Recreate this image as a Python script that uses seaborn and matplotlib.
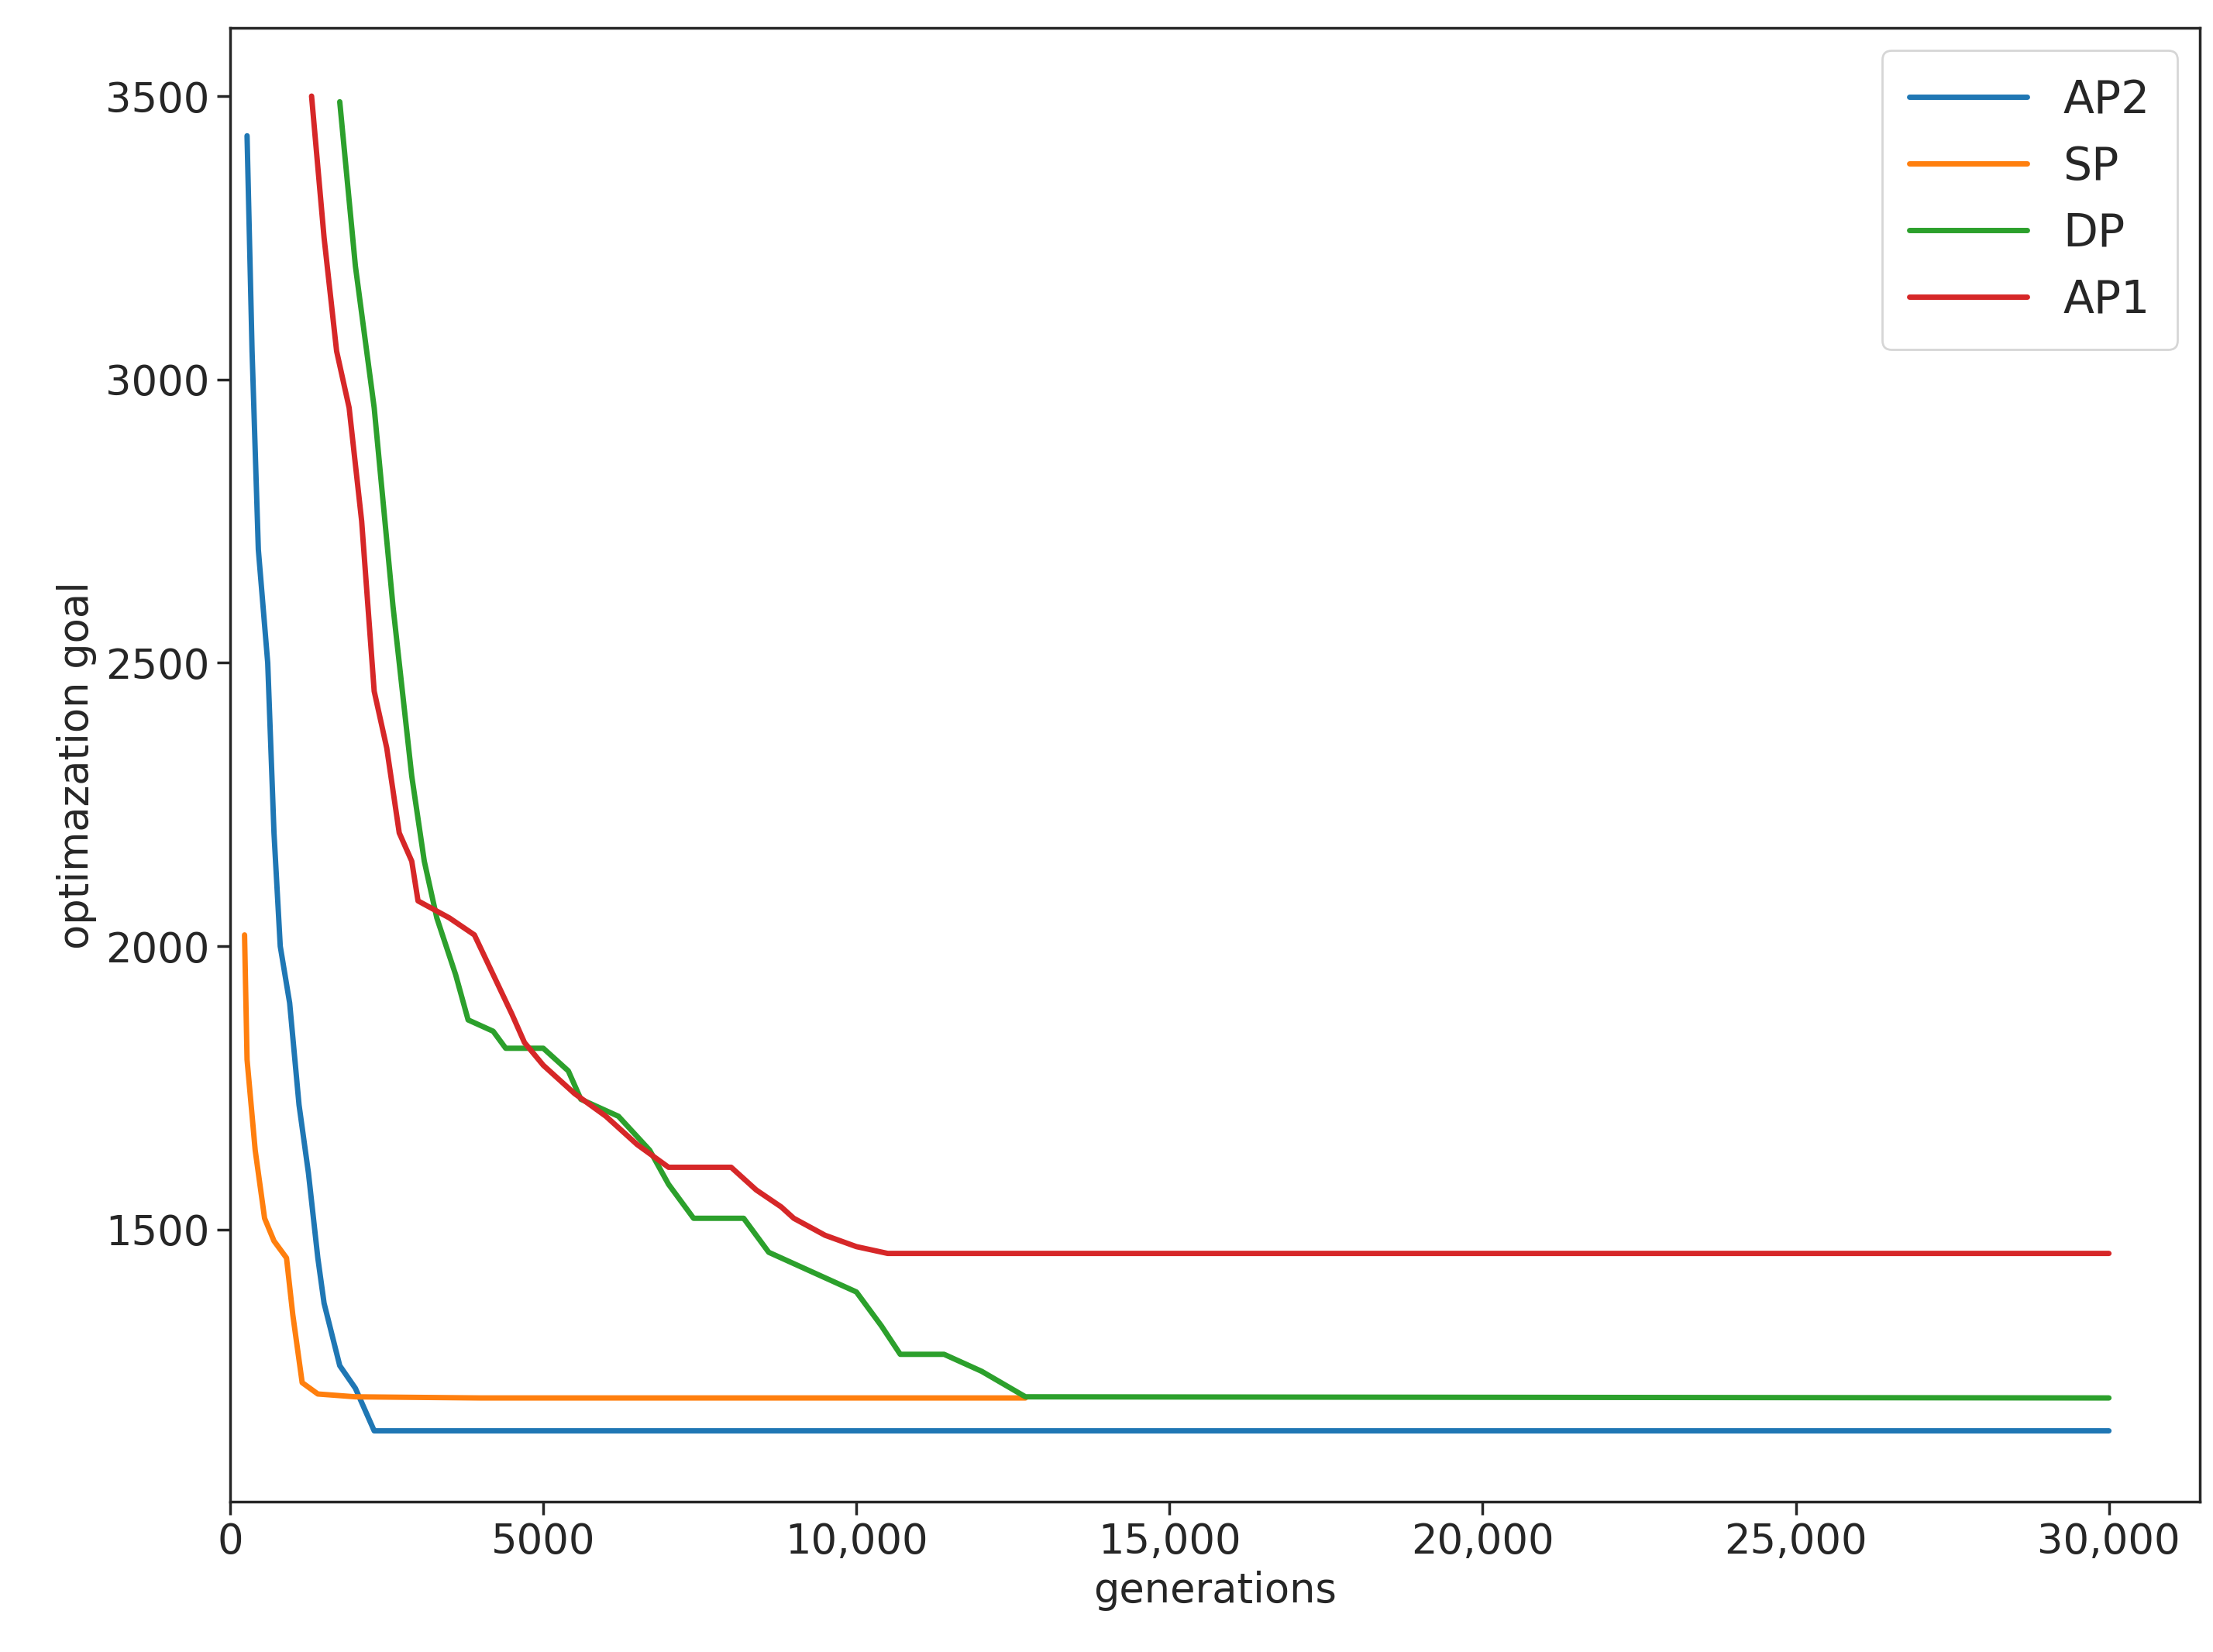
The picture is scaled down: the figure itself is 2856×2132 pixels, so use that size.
import matplotlib
matplotlib.use("Agg")
import matplotlib.pyplot as plt
import seaborn as sns
from matplotlib.ticker import FuncFormatter

AP2_X = [270, 350, 450, 600, 700, 800, 950, 1100, 1250, 1400, 1500, 1750, 2000, 2300, 30000]
AP2_Y = [3430, 3050, 2700, 2500, 2200, 2000, 1900, 1720, 1600, 1450, 1370, 1260, 1220, 1145, 1145]
SP_X = [230, 270, 400, 550, 700, 900, 1000, 1150, 1400, 2000, 4000, 12700]
SP_Y = [2020, 1800, 1640, 1520, 1480, 1450, 1350, 1230, 1210, 1205, 1203, 1203]
DP_X = [1750, 2000, 2300, 2600, 2900, 3100, 3300, 3600, 3800, 4200, 4400, 5000, 5400, 5600,
        6200, 6700, 7000, 7400, 8200, 8600, 9000, 9600, 10000, 10400, 10700, 11400, 12000,
        12700, 30000]
DP_Y = [3490, 3200, 2950, 2600, 2300, 2150, 2050, 1950, 1870, 1850, 1820, 1820, 1780, 1730,
        1700, 1640, 1580, 1520, 1520, 1460, 1440, 1410, 1390, 1330, 1280, 1280, 1250,
        1205, 1203]
AP1_X = [1300, 1500, 1700, 1900, 2100, 2300, 2500, 2700, 2900, 3000, 3500, 3900, 4200, 4500,
         4700, 5000, 5500, 6000, 6500, 7000, 8000, 8400, 8800, 9000, 9500, 10000, 10500, 30000]
AP1_Y = [3500, 3250, 3050, 2950, 2750, 2450, 2350, 2200, 2150, 2080, 2050, 2020, 1950, 1880,
         1830, 1790, 1740, 1700, 1650, 1610, 1610, 1570, 1540, 1520, 1490, 1470, 1458, 1458]

SERIES = [("AP2", AP2_X, AP2_Y), ("SP", SP_X, SP_Y), ("DP", DP_X, DP_Y), ("AP1", AP1_X, AP1_Y)]

sns.set_theme(style="ticks")
plt.rcParams["font.family"] = ["DejaVu Sans"]
colors = sns.color_palette("tab10", 4)

fig, ax = plt.subplots(figsize=(14.28, 10.66), dpi=200)
for (name, xs, ys), c in zip(SERIES, colors):
    sns.lineplot(x=xs, y=ys, ax=ax, color=c, linewidth=2.5, label=name, sort=False)

ax.set_xlim(0, 31450)
ax.set_ylim(1020, 3620)
ax.set_xticks([0, 5000, 10000, 15000, 20000, 25000, 30000])
ax.set_yticks([1500, 2000, 2500, 3000, 3500])
ax.xaxis.set_major_formatter(FuncFormatter(lambda v, p: f"{int(v)}" if v < 10000 else f"{int(v):,}"))
ax.tick_params(labelsize=19, length=6)
ax.set_xlabel("generations", fontsize=19)
ax.set_ylabel("optimazation goal", fontsize=19)
ax.legend(loc="upper right", fontsize=21, handlelength=2.6, borderpad=0.6)
fig.subplots_adjust(left=0.104, right=0.994, top=0.983, bottom=0.091)
fig.savefig("out.png", dpi=200)
